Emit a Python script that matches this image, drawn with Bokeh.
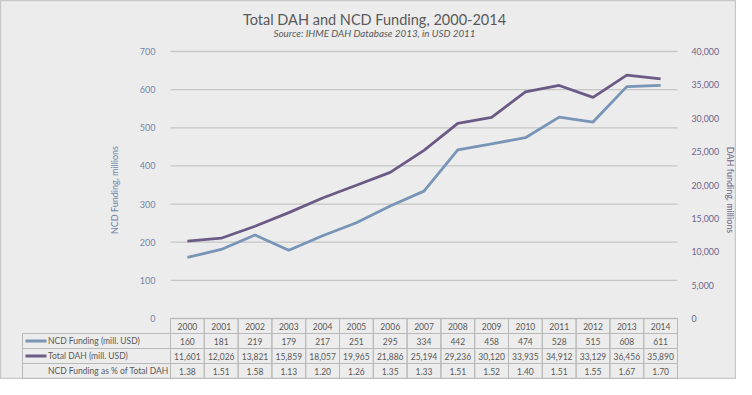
from bokeh.plotting import figure
from bokeh.models import Range1d, LinearAxis, FixedTicker, NumeralTickFormatter
from bokeh.embed import file_html
from bokeh.resources import INLINE
from bokeh.core.properties import value

# ---------------- data ----------------
years = [2000, 2001, 2002, 2003, 2004, 2005, 2006, 2007, 2008, 2009, 2010, 2011, 2012, 2013, 2014]
ncd_funding = [160, 181, 219, 179, 217, 251, 295, 334, 442, 458, 474, 528, 515, 608, 611]
total_dah = [11601, 12026, 13821, 15859, 18057, 19965, 21886, 25194, 29236, 30120,
             33935, 34912, 33129, 36456, 35890]
ncd_pct = ["1.38", "1.51", "1.58", "1.13", "1.20", "1.26", "1.35", "1.33", "1.51", "1.52",
           "1.40", "1.51", "1.55", "1.67", "1.70"]
row_labels = ["NCD Funding (mill. USD)", "Total DAH (mill. USD)", "NCD Funding as % of Total DAH"]
left_ticks = [0, 100, 200, 300, 400, 500, 600, 700]
right_ticks = [0, 5000, 10000, 15000, 20000, 25000, 30000, 35000, 40000]
title_text = "Total DAH and NCD Funding, 2000-2014"
subtitle_text = "Source: IHME DAH Database 2013, in USD 2011"
left_label = "NCD Funding, millions"
right_label = "DAH funding, millions"

# ---------------- style / layout (pixels) ----------------
FONT_NAME = "Lato"
FONT = value(FONT_NAME)
BG = "#ececec"
NCD_C = "#7895b7"
DAH_C = "#6c5a86"
LEFT_TXT = "#6f86ab"
RIGHT_TXT = "#6c6488"
TXT = "#595959"
GRID_C = "#c6c6c6"
CELL_C = "#b9b9b9"
BORDER_C = "#c8c8c8"

W, H = 736, 379
COL = 33.8           # px per year column
PLOT_L = 170         # px, left edge of plot area
TAB_L = 22           # px, left edge of data table
TOP = 51             # px of the 700 line
ZERO = 318           # px of the 0 line
ROW = 15             # px per table row
TITLE_Y, SUB_Y, CX = 18.5, 32.5, 374

y_max = left_ticks[-1]
r_max = right_ticks[-1]
k = y_max / (ZERO - TOP)          # data units per px (left scale)


def px2x(px):
    return years[0] - 0.5 + (px - PLOT_L) / COL


def py2y(py):
    return (ZERO - py) * k


p = figure(width=W, height=H, x_range=Range1d(px2x(0), px2x(W)),
           y_range=Range1d(py2y(H), py2y(0)),
           output_backend="svg", toolbar_location=None,
           x_axis_location=None, y_axis_location=None,
           min_border_left=0, min_border_right=0, min_border_top=0, min_border_bottom=0,
           background_fill_color=BG, border_fill_color=BG,
           outline_line_color=BORDER_C, outline_line_width=1.5)
p.xgrid.visible = False
p.ygrid.visible = False
p.extra_y_ranges = {"dah": Range1d(py2y(H) * r_max / y_max, py2y(0) * r_max / y_max)}

x_first = years[0] - 0.5
x_last = years[-1] + 0.5

# horizontal grid lines at the left-axis ticks, across the plot area only
p.segment(x0=[x_first] * len(left_ticks), x1=[x_last] * len(left_ticks),
          y0=left_ticks, y1=left_ticks, line_color=GRID_C, line_width=1.3)

yl = LinearAxis(ticker=FixedTicker(ticks=left_ticks), fixed_location=x_first,
                axis_line_color=None, major_tick_line_color=None, minor_tick_line_color=None,
                major_label_standoff=9, major_label_text_font=FONT_NAME,
                major_label_text_font_size="9px", major_label_text_color=LEFT_TXT,
                axis_label=left_label, axis_label_standoff=17, axis_label_text_font=FONT_NAME,
                axis_label_text_font_size="9px", axis_label_text_font_style="normal",
                axis_label_text_color=LEFT_TXT)
p.add_layout(yl, "left")

yr = LinearAxis(y_range_name="dah", ticker=FixedTicker(ticks=right_ticks), fixed_location=x_last,
                formatter=NumeralTickFormatter(format="0,0"), axis_line_color=None,
                major_tick_line_color=None, minor_tick_line_color=None,
                major_label_standoff=8, major_label_text_font=FONT_NAME,
                major_label_text_font_size="8.8px", major_label_text_color=RIGHT_TXT,
                axis_label=right_label, axis_label_standoff=3, axis_label_text_font=FONT_NAME,
                axis_label_text_font_size="9px", axis_label_text_font_style="normal",
                axis_label_text_color=RIGHT_TXT)
p.add_layout(yr, "right")

p.line(years, ncd_funding, line_color=NCD_C, line_width=2.8)
p.line(years, total_dah, y_range_name="dah", line_color=DAH_C, line_width=2.8)

# titles
p.text(x=[px2x(CX)], y=[py2y(TITLE_Y)], text=[title_text], text_align="center",
       text_baseline="middle", text_font=FONT, text_font_size="14.5px", text_color=TXT)
p.text(x=[px2x(CX)], y=[py2y(SUB_Y)], text=[subtitle_text], text_align="center",
       text_baseline="middle", text_font=FONT, text_font_size="9.8px",
       text_font_style="italic", text_color=TXT)

# ---------------- data table ----------------
row_h = ROW * k
header_y = -row_h / 2
p.rect(x=years, y=[header_y] * len(years), width=1, height=row_h,
       fill_color=None, line_color=CELL_C, line_width=1)
p.text(x=years, y=[header_y] * len(years), text=[str(y) for y in years],
       text_align="center", text_baseline="middle", text_font=FONT,
       text_font_size="8.5px", text_color=TXT)

xl = px2x(TAB_L)
left_w = x_first - xl
rows = [[str(v) for v in ncd_funding], ["{:,}".format(v) for v in total_dah], ncd_pct]
row_y = [-row_h * (r + 1.5) for r in range(3)]
for r, vals in enumerate(rows):
    yc = row_y[r]
    p.rect(x=years, y=[yc] * len(years), width=1, height=row_h,
           fill_color=None, line_color=CELL_C, line_width=1)
    p.rect(x=[xl + left_w / 2], y=[yc], width=left_w, height=row_h,
           fill_color=None, line_color=CELL_C, line_width=1)
    p.text(x=years, y=[yc] * len(years), text=vals, text_align="center",
           text_baseline="middle", text_font=FONT, text_font_size="8.5px", text_color=TXT)
    p.text(x=[px2x(TAB_L + 25.5)], y=[yc], text=[row_labels[r]], text_align="left",
           text_baseline="middle", text_font=FONT, text_font_size="8.5px", text_color=TXT)

p.segment(x0=[px2x(TAB_L + 3)] * 2, y0=row_y[:2], x1=[px2x(TAB_L + 24)] * 2, y1=row_y[:2],
          line_color=[NCD_C, DAH_C], line_width=3)

open("out.html", "w").write(file_html(p, INLINE))
